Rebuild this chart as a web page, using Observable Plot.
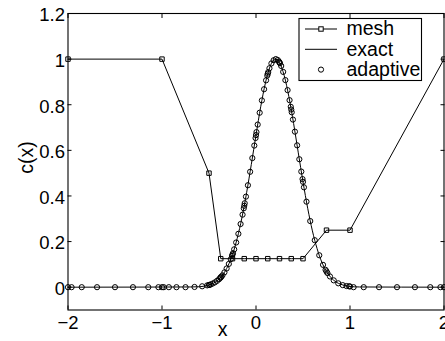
<!DOCTYPE html>
<html><head><meta charset="utf-8">
<script src="https://cdn.jsdelivr.net/npm/d3@7"></script>
<script src="https://cdn.jsdelivr.net/npm/@observablehq/plot@0.6"></script>
<style>html,body{margin:0;padding:0;background:#fff;overflow:hidden}</style>
</head><body><div id="chart"></div>
<script>
// ---- data ----
const meshX = [-2, -1, -0.5, -0.375, -0.25, -0.125, 0, 0.125, 0.25, 0.375, 0.5, 0.75, 1, 2];
const meshY = [1, 1, 0.5, 0.125, 0.125, 0.125, 0.125, 0.125, 0.125, 0.125, 0.125, 0.25, 0.25, 1];

const exactX = [-2, -0.7, -0.6, -0.55, -0.5, -0.45, -0.4, -0.35, -0.3, -0.25, -0.2, -0.15, -0.1, -0.05, 0, 0.05, 0.1, 0.15, 0.175, 0.2, 0.225, 0.25, 0.3, 0.35, 0.4, 0.45, 0.5, 0.55, 0.6, 0.65, 0.7, 0.75, 0.8, 0.85, 0.9, 0.95, 1, 1.1, 2];
const exactY = [0, 0.001, 0.002, 0.005, 0.010, 0.018, 0.033, 0.056, 0.092, 0.143, 0.214, 0.304, 0.414, 0.538, 0.667, 0.791, 0.895, 0.968, 0.989, 0.999, 0.998, 0.985, 0.928, 0.835, 0.718, 0.589, 0.462, 0.346, 0.247, 0.169, 0.110, 0.069, 0.041, 0.023, 0.013, 0.007, 0.003, 0.001, 0];

const adaptiveX = [
  -2, -1.962, -1.854, -1.691, -1.5, -1.309, -1.146, -1.038, -1,
  -0.981, -0.927, -0.846, -0.75, -0.654, -0.573, -0.519, -0.5,
  -0.495, -0.482, -0.461, -0.4375, -0.414, -0.393, -0.38, -0.375,
  -0.37, -0.357, -0.336, -0.3125, -0.289, -0.268, -0.255, -0.25,
  -0.245, -0.232, -0.211, -0.1875, -0.164, -0.143, -0.13, -0.125,
  -0.12, -0.107, -0.086, -0.0625, -0.039, -0.018, -0.005, 0,
  0.005, 0.018, 0.039, 0.0625, 0.086, 0.107, 0.12, 0.125,
  0.13, 0.143, 0.164, 0.1875, 0.211, 0.232, 0.245, 0.25,
  0.255, 0.268, 0.289, 0.3125, 0.336, 0.357, 0.37, 0.375,
  0.38, 0.393, 0.414, 0.4375, 0.461, 0.482, 0.495, 0.5,
  0.51, 0.537, 0.577, 0.625, 0.673, 0.713, 0.74, 0.75,
  0.76, 0.787, 0.827, 0.875, 0.923, 0.963, 0.99, 1,
  1.038, 1.146, 1.309, 1.5, 1.691, 1.854, 1.962, 2
];
const adaptiveY = [
  0, 0, 0, 0, 0, 0, 0, 0, 0,
  0, 0, 0, 0, 0.001, 0.004, 0.008, 0.010,
  0.010, 0.012, 0.016, 0.021, 0.028, 0.035, 0.041, 0.043,
  0.046, 0.052, 0.065, 0.082, 0.102, 0.123, 0.137, 0.143,
  0.149, 0.166, 0.196, 0.234, 0.277, 0.318, 0.346, 0.357,
  0.368, 0.397, 0.447, 0.506, 0.566, 0.621, 0.654, 0.667,
  0.680, 0.713, 0.765, 0.819, 0.868, 0.907, 0.928, 0.936,
  0.943, 0.960, 0.981, 0.995, 1.000, 0.996, 0.989, 0.985,
  0.982, 0.970, 0.944, 0.908, 0.864, 0.820, 0.791, 0.779,
  0.767, 0.735, 0.682, 0.622, 0.561, 0.507, 0.474, 0.462,
  0.438, 0.375, 0.290, 0.206, 0.140, 0.098, 0.076, 0.069,
  0.062, 0.047, 0.030, 0.017, 0.009, 0.005, 0.004, 0.003,
  0, 0, 0, 0, 0, 0, 0, 0
];

const xTicks = [-2, -1, 0, 1, 2];
const yTicks = [0, 0.2, 0.4, 0.6, 0.8, 1, 1.2];
const xDomain = [-2, 2];
const yDomain = [-0.1, 1.2];
const xLabel = "x";
const yLabel = "c(x)";
const legendLabels = ["mesh", "exact", "adaptive"];

// ---- tables ----
const mesh = meshX.map((x, i) => ({x, y: meshY[i]}));
const exact = exactX.map((x, i) => ({x, y: exactY[i]}));
const adaptive = adaptiveX.map((x, i) => ({x, y: adaptiveY[i]}));

const fmtX = d => d < 0 ? "\u2212" + (-d) : String(d);
const fmtY = d => String(Math.round(d * 10) / 10);
const FONT = "'Liberation Sans', Arial, Helvetica, sans-serif";

const W = 445, H = 341, mL = 67.5, mR = 1.5, mT = 13, mB = 31.5;
const TS = 4;
const SW = 1;

const chart = Plot.plot({
  width: W, height: H,
  marginLeft: mL, marginRight: mR, marginTop: mT, marginBottom: mB,
  style: {fontFamily: FONT, fontSize: "18.5px", background: "#fff", color: "#000", overflow: "visible"},
  x: {domain: xDomain},
  y: {domain: yDomain},
  marks: [
    // inward ticks on all four sides
    Plot.axisX({ticks: xTicks, anchor: "bottom", tickSize: TS, dy: -TS, tickFormat: () => "", label: null, stroke: "black"}),
    Plot.axisX({ticks: xTicks, anchor: "top", tickSize: TS, dy: TS, tickFormat: () => "", label: null, stroke: "black"}),
    Plot.axisY({ticks: yTicks, anchor: "left", tickSize: TS, dx: TS, tickFormat: () => "", label: null, stroke: "black"}),
    Plot.axisY({ticks: yTicks, anchor: "right", tickSize: TS, dx: -TS, tickFormat: () => "", label: null, stroke: "black"}),
    // tick labels
    Plot.axisX({ticks: xTicks, anchor: "bottom", tickSize: 0, tickPadding: 6, tickFormat: fmtX, label: null, fontSize: 18.5, fill: "black"}),
    Plot.axisY({ticks: yTicks, anchor: "left", tickSize: 0, tickPadding: 3, dy: 2, tickFormat: fmtY, label: null, fontSize: 18.5, fill: "black"}),
    // axis titles
    Plot.text([yLabel], {text: d => d, frameAnchor: "left", dx: -41.5, dy: 12, rotate: -90, fontSize: 19.5, fill: "black"}),
    Plot.text([xLabel], {text: d => d, frameAnchor: "bottom", dx: -33.5, dy: 12.5, lineAnchor: "top", fontSize: 19.5, fill: "black"}),
    // data
    Plot.line(exact, {x: "x", y: "y", stroke: "black", strokeWidth: SW, curve: "monotone-x"}),
    Plot.line(mesh, {x: "x", y: "y", stroke: "black", strokeWidth: SW}),
    Plot.dot(mesh, {x: "x", y: "y", symbol: "square", r: 2.5, stroke: "black", strokeWidth: SW, fill: "none"}),
    Plot.dot(adaptive, {x: "x", y: "y", symbol: "circle", r: 2.6, stroke: "black", strokeWidth: SW, fill: "none"}),
    Plot.frame({stroke: "black", strokeWidth: 1.1})
  ]
});
document.getElementById("chart").appendChild(chart);

// ---- legend (MATLAB-style box, top-right inside the axes) ----
const svg = d3.select(chart);
const boxR = W - mR - 22, boxT = mT + 5.5, boxW = 122.5, boxH = 62;
const boxL = boxR - boxW;
const lg = svg.append("g").attr("font-family", FONT).attr("font-size", 19.5).attr("text-anchor", "start");
lg.append("rect").attr("x", boxL).attr("y", boxT).attr("width", boxW).attr("height", boxH)
  .attr("fill", "white").attr("stroke", "black").attr("stroke-width", 1.1);
const rowH = 20.3;
legendLabels.forEach((lab, i) => {
  const cy = boxT + 10.5 + i * rowH;
  const x0 = boxL + 6, x1 = boxL + 38, xm = (x0 + x1) / 2;
  if (i < 2) {
    lg.append("line").attr("x1", x0).attr("x2", x1).attr("y1", cy).attr("y2", cy)
      .attr("stroke", "black").attr("stroke-width", SW);
  }
  if (i === 0) {
    const s = 4.4;
    lg.append("rect").attr("x", xm - s / 2).attr("y", cy - s / 2).attr("width", s).attr("height", s)
      .attr("fill", "white").attr("stroke", "black").attr("stroke-width", SW);
  }
  if (i === 2) {
    lg.append("circle").attr("cx", xm).attr("cy", cy).attr("r", 2.6)
      .attr("fill", "none").attr("stroke", "black").attr("stroke-width", SW);
  }
  lg.append("text").attr("x", boxL + 47.5).attr("y", cy + 6.3).attr("fill", "black")
    .attr("text-anchor", "start").text(lab);
});
</script>
</body></html>
